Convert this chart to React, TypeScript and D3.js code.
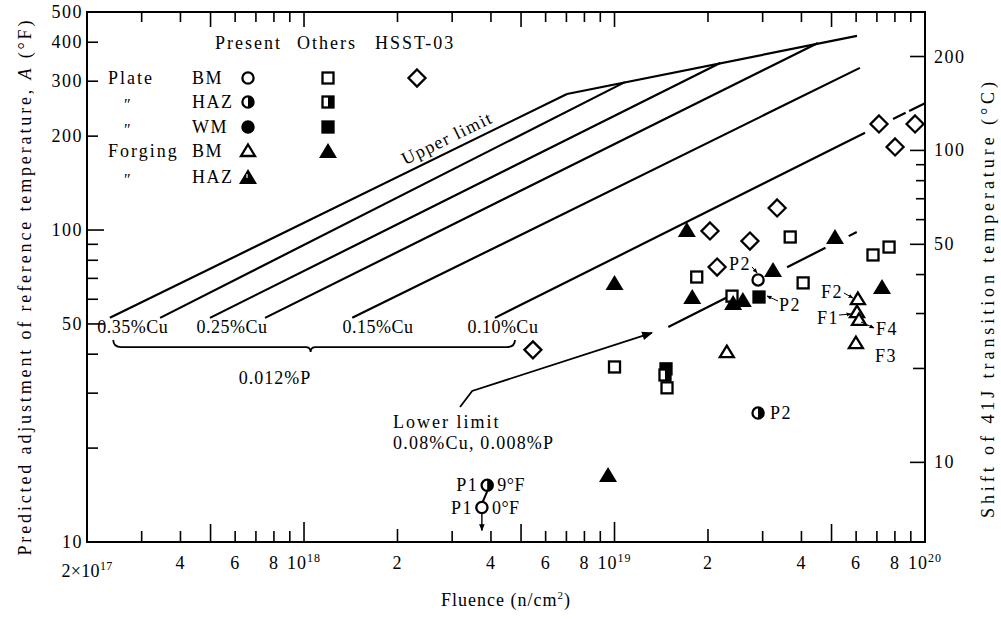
import * as d3 from "d3";

// axes
const fluenceDomain: [number, number] = [2e17, 1e20];
const aDomain: [number, number] = [10, 500];

const xLabelValues = [2e17, 4e17, 6e17, 8e17, 1e18, 2e18, 4e18, 6e18, 8e18, 1e19, 2e19, 4e19, 6e19, 8e19, 1e20];
const xLabelText = ["2×10", "4", "6", "8", "10", "2", "4", "6", "8", "10", "2", "4", "6", "8", "10"];
const xLabelSup = ["17", "", "", "", "18", "", "", "", "", "19", "", "", "", "", "20"];
const leftLabelValues = [10, 50, 100, 200, 300, 400, 500];
const rightLabelValues = [10, 50, 100, 200];

// prediction lines for 0.012%P, [fluence, A °F] at both ends
const cuStart: [number, number][] = [
  [2.37e17, 52.3], [3.44e17, 52.3], [4.98e17, 52.3], [7.49e17, 52.3], [1.43e18, 52.3], [4.12e18, 52.3],
];
const cuEnd: [number, number][] = [
  [7.03e18, 273], [1.08e19, 298], [2.19e19, 343], [4.52e19, 398], [6.17e19, 331], [6.41e19, 205],
];
const cuLabelText = ["0.35%Cu", "0.25%Cu", "0.15%Cu", "0.10%Cu"];
const cuLabelFluence = [2.81e17, 5.86e17, 1.73e18, 4.37e18];
const cuLabelA = 48.9;
const braceFluence = [2.43e17, 1.05e18, 4.78e18];
const braceA = 44.4;

const upperLimit: [number, number][] = [[7.03e18, 273], [6.04e19, 419]];
const cu010Tail: [number, number][] = [[7.89e19, 227], [1e20, 255]];
const lowerLimit: [number, number][] = [[1.49e19, 48.9], [6.04e19, 98.6]];
const lowerLeader: [number, number][] = [[3.18e18, 27.1], [3.48e18, 30.5], [1.32e19, 46.8]];

// measured points [fluence, A °F]
const hsst03: [number, number][] = [
  [5.46e18, 41.3], [2.03e19, 99.3], [2.73e19, 92.2], [2.14e19, 76.1],
  [3.34e19, 117.7], [7.11e19, 218.8], [8.01e19, 184.6], [9.29e19, 218.8],
];
const othersBM: [number, number][] = [
  [1.84e19, 70.7], [2.39e19, 61.4], [1.0e19, 36.4], [1.476e19, 31.2],
  [3.68e19, 95.0], [4.05e19, 67.7], [6.8e19, 83.2], [7.66e19, 88.2],
];
const othersWM: [number, number][] = [[1.465e19, 35.9], [2.92e19, 61.0]];
const othersHAZ: [number, number][] = [[1.454e19, 34.3]];
const othersForging: [number, number][] = [
  [1.0e19, 67.7], [1.71e19, 100.0], [1.78e19, 61.0], [3.24e19, 74.4], [2.41e19, 58.4],
  [2.59e19, 59.7], [5.13e19, 95.0], [7.27e19, 65.7], [9.53e18, 16.4],
];
const presentBM: [number, number][] = [[2.9e19, 69.2], [3.74e18, 12.9]];
const presentHAZ: [number, number][] = [[2.9e19, 25.9], [3.89e18, 15.2]];
const forgingBM: [number, number][] = [
  [2.3e19, 40.6], [6.08e19, 60.1], [6.04e19, 54.6], [6.13e19, 51.5], [5.99e19, 43.4],
];

type Kind = "circle" | "circleHalf" | "circleFill" | "square" | "squareHalf" | "squareFill" | "tri" | "triFill" | "triHaz" | "diamond";

function Mark({ kind, cx, cy }: { kind: Kind; cx: number; cy: number }) {
  const sw = 2.3;
  if (kind === "circle" || kind === "circleFill")
    return <circle cx={cx} cy={cy} r={5.6} fill={kind === "circle" ? "#fff" : "#000"} stroke="#000" strokeWidth={sw} />;
  if (kind === "circleHalf")
    return (
      <g>
        <circle cx={cx} cy={cy} r={5.6} fill="#fff" stroke="#000" strokeWidth={sw} />
        <path d={`M${cx},${cy - 5.6} A5.6,5.6 0 0 1 ${cx},${cy + 5.6} Z`} fill="#000" />
      </g>
    );
  if (kind === "square" || kind === "squareFill")
    return <rect x={cx - 5.5} y={cy - 5.5} width={11} height={11} fill={kind === "square" ? "#fff" : "#000"} stroke="#000" strokeWidth={sw} />;
  if (kind === "squareHalf")
    return (
      <g>
        <rect x={cx - 5.5} y={cy - 5.5} width={11} height={11} fill="#fff" stroke="#000" strokeWidth={sw} />
        <rect x={cx} y={cy - 5.5} width={5.5} height={11} fill="#000" />
      </g>
    );
  if (kind === "tri")
    return <path d={`M${cx},${cy - 6.5} L${cx + 7},${cy + 5} L${cx - 7},${cy + 5} Z`} fill="#fff" stroke="#000" strokeWidth={sw} strokeLinejoin="miter" />;
  if (kind === "triFill" || kind === "triHaz")
    return (
      <g>
        <path d={`M${cx},${cy - 8} L${cx + 9},${cy + 7} L${cx - 9},${cy + 7} Z`} fill="#000" />
        {kind === "triHaz" && <path d={`M${cx - 1},${cy - 3} L${cx - 1},${cy + 1}`} stroke="#fff" strokeWidth={1.2} />}
      </g>
    );
  return <path d={`M${cx},${cy - 8.5} L${cx + 8.5},${cy} L${cx},${cy + 8.5} L${cx - 8.5},${cy} Z`} fill="#fff" stroke="#000" strokeWidth={sw} />;
}

const mant = (v: number) => Math.round(v / Math.pow(10, Math.floor(Math.log10(v) + 1e-9)));

const SERIF = '"Liberation Serif"';
// every text gets its family directly
const T = (extra: Record<string, unknown> = {}) => ({ fontFamily: SERIF, fontSize: 18, letterSpacing: 1.5, fill: "#000", ...extra });

export default function App() {
  const x = d3.scaleLog().domain(fluenceDomain).range([87, 925]);
  const y = d3.scaleLog().domain(aDomain).range([542, 12]);
  const yC = d3.scaleLog().domain([(aDomain[0] * 5) / 9, (aDomain[1] * 5) / 9]).range([542, 12]);
  const line = d3.line<[number, number]>().x((d) => x(d[0])).y((d) => y(d[1]));
  const [x0, x1] = x.range();
  const [yb, yt] = y.range();

  const xt = x.ticks().filter((v) => v > fluenceDomain[0] * 1.01 && v < fluenceDomain[1] * 0.99);
  const ylt = y.ticks().filter((v) => v > aDomain[0] * 1.01 && v < aDomain[1] * 0.99);
  const yrt = yC.ticks().filter((v) => v >= 9.99 && v <= 200.1);

  const P = (d: [number, number]) => ({ x: x(d[0]), y: y(d[1]) });

  const bx0 = x(braceFluence[0]), bxm = x(braceFluence[1]), bx1 = x(braceFluence[2]), by = y(braceA);
  const brace = `M${bx0},${by} Q${bx0},${by + 7} ${bx0 + 8},${by + 7} L${bxm - 5},${by + 7} Q${bxm},${by + 7} ${bxm},${by + 12} Q${bxm},${by + 7} ${bxm + 5},${by + 7} L${bx1 - 8},${by + 7} Q${bx1},${by + 7} ${bx1},${by}`;

  const a0 = P(cuStart[0]), a1 = P(cuEnd[0]);
  const ulAngle = (Math.atan2(a1.y - a0.y, a1.x - a0.x) * 180) / Math.PI;
  const ulPos = P([2.89e18, 197]);

  const p2c = P(presentBM[0]);
  const p2s = P(othersWM[1]);
  const p2h = P(presentHAZ[0]);
  const p1h = P(presentHAZ[1]);
  const p1o = P(presentBM[1]);
  const f2 = P(forgingBM[1]), f1 = P(forgingBM[2]), f4 = P(forgingBM[3]), f3 = P(forgingBM[4]);

  const legendRows = [
    { a: "Plate", b: "BM", present: "circle", others: "square", hsst: true },
    { a: "″", b: "HAZ", present: "circleHalf", others: "squareHalf", hsst: false },
    { a: "″", b: "WM", present: "circleFill", others: "squareFill", hsst: false },
    { a: "Forging", b: "BM", present: "tri", others: "triFill", hsst: false },
    { a: "″", b: "HAZ", present: "triHaz", others: "", hsst: false },
  ];
  const rowY = [78, 102, 127, 151, 177];

  return (
    <svg width={1001} height={619} style={{ position: "absolute", left: 0, top: 0, background: "#fff" }}>
      <defs>
        <marker id="ah" viewBox="0 0 10 10" refX="9" refY="5" markerWidth="5" markerHeight="5" orient="auto">
          <path d="M0,1 L10,5 L0,9 Z" fill="#000" />
        </marker>
        <marker id="ahBig" viewBox="0 0 10 10" refX="9" refY="5" markerWidth="7" markerHeight="6" orient="auto">
          <path d="M0,1 L10,5 L0,9 Z" fill="#000" />
        </marker>
      </defs>
      <rect width={1001} height={619} fill="#fff" />

      {/* frame */}
      <rect x={x0} y={yt} width={x1 - x0} height={yb - yt} fill="none" stroke="#000" strokeWidth={2} />

      {/* x ticks */}
      {xt.map((v, i) => {
        const m = mant(v);
        const lb = m === 1 ? 20 : m === 5 ? 18 : m === 2 ? 13 : 11;
        const lt = m === 1 || m === 5 ? 15 : 10;
        return (
          <g key={"xt" + i} stroke="#000" strokeWidth={1.6}>
            <line x1={x(v)} x2={x(v)} y1={yb} y2={yb - lb} />
            <line x1={x(v)} x2={x(v)} y1={yt} y2={yt + lt} />
          </g>
        );
      })}
      {xLabelValues.map((v, i) => (
        <text key={"xl" + i} x={x(v)} y={i === 0 ? 577 : 569} textAnchor="middle" style={T({ letterSpacing: i === 0 ? 0.3 : 1 })}>
          {xLabelText[i]}
          {xLabelSup[i] && (
            <tspan fontSize={12} dy={-7}>
              {xLabelSup[i]}
            </tspan>
          )}
        </text>
      ))}

      {/* left ticks */}
      {ylt.map((v, i) => (
        <line key={"yl" + i} x1={x0} x2={x0 + (v === 50 || v === 100 ? 17 : 11)} y1={y(v)} y2={y(v)} stroke="#000" strokeWidth={1.6} />
      ))}
      {leftLabelValues.map((v, i) => (
        <text key={"yll" + i} x={83} y={y(v) + 6} textAnchor="end" style={T()}>
          {v}
        </text>
      ))}

      {/* right ticks (°C) */}
      {yrt.map((v, i) => (
        <line
          key={"yr" + i}
          x1={x1}
          x2={x1 - (rightLabelValues.includes(v) ? 15 : v === 20 ? 12 : 9)}
          y1={yC(v)}
          y2={yC(v)}
          stroke="#000"
          strokeWidth={1.6}
        />
      ))}
      {rightLabelValues.map((v, i) => (
        <text key={"yrl" + i} x={934} y={yC(v) + 6} style={T()}>
          {v}
        </text>
      ))}

      {/* axis titles */}
      <text transform={`translate(31,288) rotate(-90)`} textAnchor="middle" style={T({ letterSpacing: 0 })} textLength={535} lengthAdjust="spacing">
        Predicted adjustment of reference temperature, <tspan fontStyle="italic">A</tspan> (°F)
      </text>
      <text transform={`translate(994,300) rotate(-90)`} textAnchor="middle" style={T({ letterSpacing: 0 })} textLength={436} lengthAdjust="spacing">
        Shift of 41J transition temperature (°C)
      </text>
      <text x={506} y={606} textAnchor="middle" style={T({ letterSpacing: 1 })}>
        Fluence (n/cm<tspan fontSize={11} dy={-7}>2</tspan>
        <tspan dy={7}>)</tspan>
      </text>

      {/* Cu lines */}
      {cuStart.map((s, i) => (
        <path key={"cu" + i} d={line([s, cuEnd[i]]) || ""} fill="none" stroke="#000" strokeWidth={2.2} />
      ))}
      <path d={line(upperLimit) || ""} fill="none" stroke="#000" strokeWidth={2.2} />
      <path d={line(cu010Tail) || ""} fill="none" stroke="#000" strokeWidth={2.2} strokeDasharray="14 4 20" />
      <path d={line(lowerLimit) || ""} fill="none" stroke="#000" strokeWidth={2.2} strokeDasharray="66 67 43 26 9 100" />
      <path d={line(lowerLeader) || ""} fill="none" stroke="#000" strokeWidth={1.8} markerEnd="url(#ahBig)" />

      {cuLabelText.map((t, i) => (
        <text key={"cul" + i} x={x(cuLabelFluence[i])} y={y(cuLabelA) + 6} textAnchor="middle" style={T({ fontSize: 18, letterSpacing: 0.5 })}>
          {t}
        </text>
      ))}
      <path d={brace} fill="none" stroke="#000" strokeWidth={1.8} />
      <text x={x(8.07e17)} y={y(33.6) + 6} textAnchor="middle" style={T({ letterSpacing: 1 })}>
        0.012%P
      </text>
      <text transform={`translate(${ulPos.x},${ulPos.y}) rotate(${ulAngle})`} textAnchor="middle" dy={6} style={T({ letterSpacing: 1.4 })}>
        Upper limit
      </text>
      <text x={x(1.935e18)} y={y(24.3) + 6} style={T({ letterSpacing: 2 })}>
        Lower limit
      </text>
      <text x={x(1.935e18)} y={y(20.8) + 6} style={T({ letterSpacing: 1.2 })}>
        0.08%Cu, 0.008%P
      </text>

      {/* points */}
      {othersBM.map((d, i) => <Mark key={"ob" + i} kind="square" cx={x(d[0])} cy={y(d[1])} />)}
      {othersWM.map((d, i) => <Mark key={"ow" + i} kind="squareFill" cx={x(d[0])} cy={y(d[1])} />)}
      {othersHAZ.map((d, i) => <Mark key={"oh" + i} kind="squareHalf" cx={x(d[0])} cy={y(d[1])} />)}
      {hsst03.map((d, i) => <Mark key={"hs" + i} kind="diamond" cx={x(d[0])} cy={y(d[1])} />)}
      {othersForging.map((d, i) => <Mark key={"of" + i} kind="triFill" cx={x(d[0])} cy={y(d[1])} />)}
      {forgingBM.map((d, i) => <Mark key={"fb" + i} kind="tri" cx={x(d[0])} cy={y(d[1])} />)}
      {presentHAZ.map((d, i) => <Mark key={"ph" + i} kind="circleHalf" cx={x(d[0])} cy={y(d[1])} />)}
      {presentBM.map((d, i) => <Mark key={"pb" + i} kind="circle" cx={x(d[0])} cy={y(d[1])} />)}

      {/* point notes */}
      <g>
        <text x={p2c.x - 18} y={p2c.y - 10} textAnchor="middle" style={T()}>P2</text>
        <line x1={p2c.x - 6} y1={p2c.y - 13} x2={p2c.x - 1} y2={p2c.y - 7} stroke="#000" strokeWidth={1} markerEnd="url(#ah)" />
        <text x={p2s.x + 31} y={p2s.y + 14} textAnchor="middle" style={T()}>P2</text>
        <line x1={p2s.x + 19} y1={p2s.y + 4} x2={p2s.x + 8} y2={p2s.y - 1} stroke="#000" strokeWidth={1} markerEnd="url(#ah)" />
        <text x={p2h.x + 12} y={p2h.y + 6} style={T()}>P2</text>

        <text x={p1h.x - 9} y={p1h.y + 6} textAnchor="end" style={T()}>P1</text>
        <text x={p1h.x + 10} y={p1h.y + 6} style={T({ letterSpacing: 0.5 })}>9°F</text>
        <text x={p1o.x - 9} y={p1o.y + 6} textAnchor="end" style={T()}>P1</text>
        <text x={p1o.x + 10} y={p1o.y + 6} style={T({ letterSpacing: 0.5 })}>0°F</text>
        <line x1={p1h.x} y1={p1h.y + 6} x2={p1o.x + 1} y2={p1o.y - 6} stroke="#000" strokeWidth={2} />
        <line x1={p1o.x} y1={p1o.y + 6} x2={p1o.x} y2={p1o.y + 23} stroke="#000" strokeWidth={1.4} markerEnd="url(#ah)" />

        <text x={f2.x - 26} y={f2.y - 1} textAnchor="middle" style={T()}>F2</text>
        <line x1={f2.x - 14} y1={f2.y - 6} x2={f2.x - 5} y2={f2.y - 1} stroke="#000" strokeWidth={1} markerEnd="url(#ah)" />
        <text x={f1.x - 29} y={f1.y + 12} textAnchor="middle" style={T()}>F1</text>
        <line x1={f1.x - 18} y1={f1.y + 3} x2={f1.x - 6} y2={f1.y + 2} stroke="#000" strokeWidth={1} markerEnd="url(#ah)" />
        <text x={f4.x + 28} y={f4.y + 15} textAnchor="middle" style={T()}>F4</text>
        <line x1={f4.x + 2} y1={f4.y + 2} x2={f4.x + 15} y2={f4.y + 8} stroke="#000" strokeWidth={1} markerEnd="url(#ah)" />
        <text x={f3.x + 30} y={f3.y + 19} textAnchor="middle" style={T()}>F3</text>
      </g>

      {/* legend */}
      <text x={215} y={49} style={T({ letterSpacing: 2 })}>Present</text>
      <text x={297} y={49} style={T({ letterSpacing: 2 })}>Others</text>
      <text x={375} y={49} style={T({ letterSpacing: 2 })}>HSST-03</text>
      {legendRows.map((r, i) => (
        <g key={"lg" + i}>
          {r.a === "″" ? (
            <text x={127} y={rowY[i] + 8} textAnchor="middle" style={T({ fontStyle: "italic", fontSize: 16 })}>
              {r.a}
            </text>
          ) : (
            <text x={108} y={rowY[i] + 6} style={T({ letterSpacing: 2 })}>{r.a}</text>
          )}
          <text x={192} y={rowY[i] + 6} style={T({ letterSpacing: 1.5 })}>{r.b}</text>
          <Mark kind={r.present as Kind} cx={248} cy={rowY[i]} />
          {r.others && <Mark kind={r.others as Kind} cx={328} cy={rowY[i]} />}
          {r.hsst && <Mark kind="diamond" cx={417} cy={rowY[i]} />}
        </g>
      ))}
    </svg>
  );
}
